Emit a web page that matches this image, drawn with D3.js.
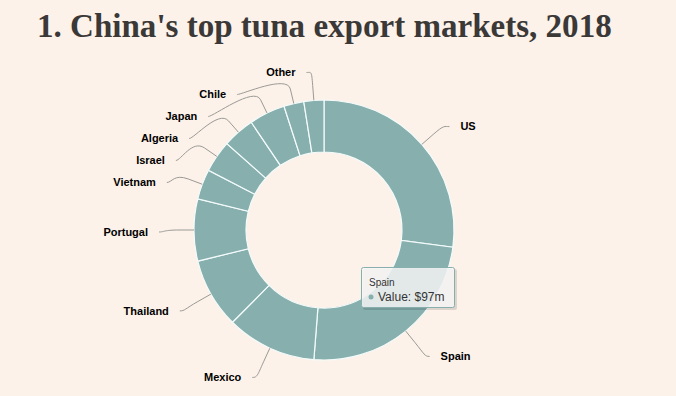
<!DOCTYPE html>
<html>
<head>
  <meta charset="utf-8">
  <title>China's top tuna export markets, 2018</title>
  <script src="https://d3js.org/d3.v7.min.js"></script>
  <style>
    body {
      margin: 0;
      padding: 0;
      background: #fcf2e9;
    }
    #chart {
      width: 676px;
      height: 396px;
    }
    .title {
      font-family: 'Liberation Serif', 'DejaVu Serif', serif;
      font-weight: bold;
      fill: #3b3838;
    }
    .slice {
      fill: #86afae;
      stroke: #f4fbfb;
      stroke-width: 1.2;
    }
    .connector {
      fill: none;
      stroke: #9a9a96;
      stroke-width: 1;
    }
    .label {
      font-family: 'Liberation Sans', Arial, sans-serif;
      font-size: 11px;
      font-weight: bold;
      fill: #000;
    }
    .tip-box {
      fill: rgba(247, 247, 247, 0.85);
      stroke: #86afae;
      stroke-width: 1;
    }
    .tip-head {
      font-family: 'Liberation Sans', Arial, sans-serif;
      font-size: 10px;
      fill: #333;
    }
    .tip-body {
      font-family: 'Liberation Sans', Arial, sans-serif;
      font-size: 12px;
      fill: #333;
    }
  </style>
</head>
<body>
  <div id="chart"></div>
  <script>

  // export markets, in the order they are drawn (clockwise from the top)
  var countries = ["US", "Spain", "Mexico", "Thailand", "Portugal", "Vietnam",
                   "Israel", "Algeria", "Japan", "Chile", "Other"]
  // export value, $m
  var values = [109, 97, 45, 35, 31, 15, 16, 16, 18, 10, 10]

  var width = 676,
      height = 396

  var cx = 324,
      cy = 230,
      outerR = 130,
      innerR = 78,
      labelDistance = 30

  var svg = d3.select("#chart")
    .append("svg")
    .attr("width", width)
    .attr("height", height)

  // title, squeezed to the width it has in the original
  var title = svg.append("text")
    .attr("class", "title")
    .attr("x", 37)
    .attr("y", 37)
    .style("font-size", "28px")
    .text("1. China's top tuna export markets, 2018")
  var tw = title.node().getComputedTextLength()
  title.style("font-size", (28 * 575 / tw) + "px")

  var data = countries.map(function (c, i) {
    return { name: c, value: values[i] }
  })

  var pie = d3.pie()
    .sort(null)
    .value(function (d) { return d.value })

  var arcs = pie(data)

  var arc = d3.arc()
    .innerRadius(innerR)
    .outerRadius(outerR)

  var g = svg.append("g")
    .attr("transform", "translate(" + cx + "," + cy + ")")

  g.selectAll("path.slice")
    .data(arcs)
    .enter().append("path")
    .attr("class", "slice")
    .attr("d", arc)

  // work out label positions (natural spot, then push crowded ones apart)
  arcs.forEach(function (a) {
    var mid = (a.startAngle + a.endAngle) / 2
    a.mid = mid
    a.left = Math.sin(mid) < 0
    a.nx = Math.sin(mid) * (outerR + labelDistance)
    a.ny = -Math.cos(mid) * (outerR + labelDistance)
    a.x = a.nx
    a.y = a.ny
  })

  var minGap = 22
  ;[true, false].forEach(function (side) {
    var group = arcs.filter(function (a) { return a.left === side })
      .sort(function (a, b) { return a.ny - b.ny })
    var prev = -Infinity
    group.forEach(function (a) {
      if (a.ny < prev + minGap) {
        a.y = prev + minGap
        var rr = outerR + labelDistance
        var dx = Math.sqrt(Math.max(rr * rr - a.y * a.y, 0))
        a.x = side ? -dx : dx
      }
      prev = a.y
    })
  })

  // connectors
  g.selectAll("path.connector")
    .data(arcs)
    .enter().append("path")
    .attr("class", "connector")
    .attr("d", function (a) {
      var ex = a.x + (a.left ? -5 : 5),
          ey = a.y + 2
      var bx = Math.sin(a.mid) * (outerR + labelDistance / 2),
          by = -Math.cos(a.mid) * (outerR + labelDistance / 2)
      var tx = Math.sin(a.mid) * outerR,
          ty = -Math.cos(a.mid) * outerR
      var p = d3.path()
      p.moveTo(ex, ey)
      p.bezierCurveTo(a.x, ey, 2 * bx - tx, 2 * by - ty, bx, by)
      p.lineTo(tx, ty)
      return p.toString()
    })

  g.selectAll("text.label")
    .data(arcs)
    .enter().append("text")
    .attr("class", "label")
    .attr("x", function (a) { return a.x + (a.left ? -16 : 16) })
    .attr("y", function (a) { return a.y + 2 })
    .attr("dy", "0.35em")
    .attr("text-anchor", function (a) { return a.left ? "end" : "start" })
    .text(function (a) { return a.data.name })

  // tooltip shown over Spain
  var tipPoint = arcs[1]
  var tip = svg.append("g")
    .attr("transform", "translate(361,267)")

  tip.append("rect")
    .attr("x", 2)
    .attr("y", 2)
    .attr("width", 94)
    .attr("height", 41)
    .attr("rx", 2)
    .style("fill", "rgba(0,0,0,0.12)")

  tip.append("rect")
    .attr("class", "tip-box")
    .attr("x", 0.5)
    .attr("y", 0.5)
    .attr("width", 93)
    .attr("height", 40)
    .attr("rx", 2)

  tip.append("text")
    .attr("class", "tip-head")
    .attr("x", 8)
    .attr("y", 19)
    .text(tipPoint.data.name)

  tip.append("circle")
    .attr("cx", 10)
    .attr("cy", 30)
    .attr("r", 2.5)
    .style("fill", "#86afae")

  tip.append("text")
    .attr("class", "tip-body")
    .attr("x", 17)
    .attr("y", 34)
    .text("Value: $" + tipPoint.data.value + "m")

  </script>
</body>
</html>
